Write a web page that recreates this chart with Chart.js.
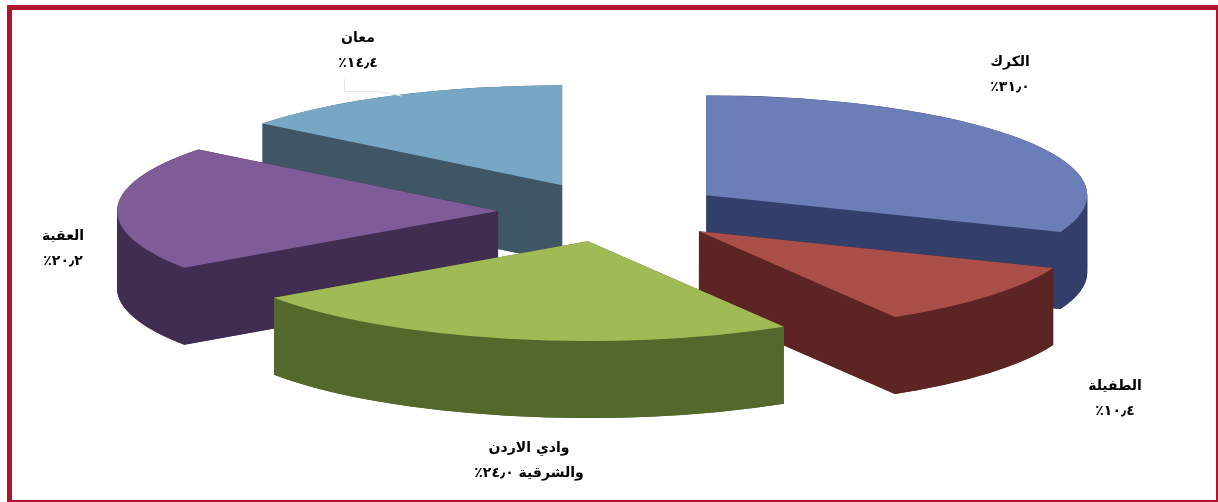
<!DOCTYPE html>
<html lang="ar">
<head>
    <meta charset="UTF-8">
    <title>توزيع النسب حسب المحافظات</title>
    <script src="https://cdn.jsdelivr.net/npm/chart.js"></script>
    <style>
        html, body {
            margin: 0;
            padding: 0;
            background: white;
            overflow: hidden;
        }
        .frame {
            position: absolute;
            left: 7px;
            top: 5px;
            width: 1204px;
            height: 490px;
            border: 5px solid #b01530;
        }
        canvas {
            position: absolute;
            left: 0;
            top: 0;
            filter: blur(0.6px);
        }
    </style>
</head>
<body>
    <div class="frame"></div>
    <canvas id="grafico" width="1218" height="502"></canvas>
    <script>
        const categories = ["الكرك", "الطفيلة", "وادي الاردن والشرقية", "العقبة", "معان"];
        const values = [31.0, 10.4, 24.0, 20.2, 14.4];
        const topColors = ["#6b7eb8", "#a94e48", "#a0ba56", "#7f5b97", "#77a7c5"];
        const sideColors = ["#333f6b", "#5c2524", "#55682c", "#412c52", "#3f5666"];
        const labelLines = [
            ["الكرك", "٣١٫٠٪"],
            ["الطفيلة", "١٠٫٤٪"],
            ["وادي الاردن", "والشرقية ٢٤٫٠٪"],
            ["العقبة", "٢٠٫٢٪"],
            ["معان", "١٤٫٤٪"]
        ];
        const labelAnchors = [[1010, 62], [1115, 386], [529, 448], [63, 236], [358, 38]];

        // back to front, so the nearer slices cover the walls of the others
        const drawOrder = [4, 0, 3, 1, 2];

        const centerX = 612;
        const centerY = 212;
        const radius = 381;
        const explode = 114;
        const tilt = 0.262;
        const depth = 77;

        // draws the arc element flattened, with its tip at (px, py)
        function drawFlat(ctx, el, px, py) {
            ctx.save();
            ctx.translate(px, py);
            ctx.scale(1, tilt);
            ctx.translate(-el.x, -el.y);
            el.draw(ctx);
            ctx.restore();
        }

        const pie3d = {
            id: "pie3d",
            beforeDatasetsDraw(chart) {
                const ctx = chart.ctx;
                const arcs = chart.getDatasetMeta(0).data;
                drawOrder.forEach(i => {
                    const el = arcs[i];
                    const a0 = el.startAngle;
                    const a1 = el.endAngle;
                    const r = el.outerRadius;
                    const mid = (a0 + a1) / 2;
                    const px = centerX + Math.cos(mid) * explode;
                    const py = centerY + Math.sin(mid) * explode * tilt;

                    const wall = Object.create(el);
                    wall.options = Object.assign({}, el.options, { backgroundColor: sideColors[i] });
                    drawFlat(ctx, wall, px, py + depth);

                    ctx.fillStyle = sideColors[i];
                    // the rim is cut at the far left and right, the two arcs would cross there
                    const cuts = [a0, ...[0, Math.PI].filter(a => a > a0 && a < a1), a1];
                    for (let c = 0; c < cuts.length - 1; c++) {
                        ctx.beginPath();
                        ctx.ellipse(px, py, r, r * tilt, 0, cuts[c], cuts[c + 1]);
                        ctx.ellipse(px, py + depth, r, r * tilt, 0, cuts[c + 1], cuts[c], true);
                        ctx.closePath();
                        ctx.fill();
                    }
                    [a0, a1].forEach(a => {
                        const ex = px + Math.cos(a) * r;
                        const ey = py + Math.sin(a) * r * tilt;
                        ctx.beginPath();
                        ctx.moveTo(px, py);
                        ctx.lineTo(ex, ey);
                        ctx.lineTo(ex, ey + depth);
                        ctx.lineTo(px, py + depth);
                        ctx.closePath();
                        ctx.fill();
                    });

                    drawFlat(ctx, el, px, py);
                });
                return false;
            },
            afterDraw(chart) {
                const ctx = chart.ctx;
                ctx.save();
                // leader line of the small label at the top
                ctx.strokeStyle = "#e6e6e6";
                ctx.lineWidth = 1;
                ctx.beginPath();
                ctx.moveTo(344.5, 79);
                ctx.lineTo(344.5, 91.5);
                ctx.lineTo(378, 91.5);
                ctx.lineTo(402, 96);
                ctx.stroke();
                ctx.fillStyle = "#000";
                ctx.font = "bold 14px 'DejaVu Sans'";
                ctx.direction = "rtl";
                ctx.textAlign = "center";
                ctx.textBaseline = "middle";
                labelLines.forEach((lines, i) => {
                    const [x, y] = labelAnchors[i];
                    lines.forEach((text, n) => ctx.fillText(text, x, y + n * 25.5));
                });
                ctx.restore();
            }
        };

        new Chart(document.getElementById("grafico"), {
            type: "pie",
            data: {
                labels: categories,
                datasets: [{
                    data: values,
                    backgroundColor: topColors,
                    borderWidth: 0
                }]
            },
            options: {
                responsive: false,
                animation: false,
                events: [],
                radius: radius,
                plugins: {
                    legend: { display: false },
                    tooltip: { enabled: false }
                }
            },
            plugins: [pie3d]
        });
    </script>
</body>
</html>
